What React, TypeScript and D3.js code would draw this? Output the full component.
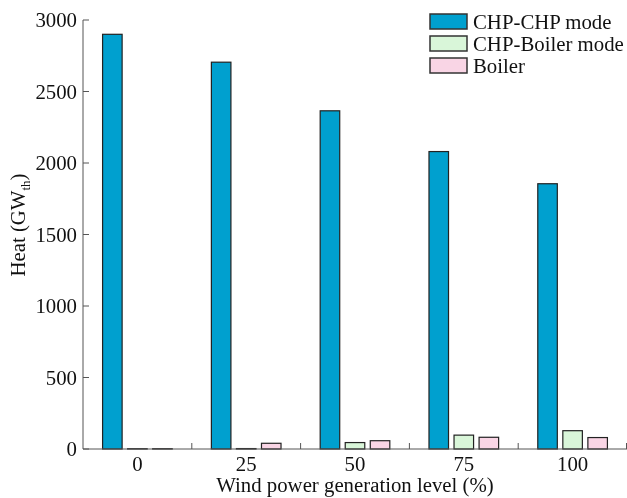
import React, { useRef, useEffect } from 'react';
import * as d3 from 'd3';

const levels = ['0', '25', '50', '75', '100'];
const seriesNames = ['CHP-CHP mode', 'CHP-Boiler mode', 'Boiler'];
const chpChp = [2900, 2705, 2365, 2080, 1855];
const chpBoiler = [2, 3, 45, 97, 128];
const boiler = [2, 40, 58, 82, 80];
const yTicks = [0, 500, 1000, 1500, 2000, 2500, 3000];
const colors = ['#00a0cf', '#d9f6d9', '#f9d5e5'];

const Chart: React.FC = () => {
  const svgRef = useRef<SVGSVGElement>(null);

  useEffect(() => {
    if (!svgRef.current) return;
    const width = 627;
    const height = 498;
    const margin = { top: 20, right: 0, bottom: 49, left: 83 };
    const series = [chpChp, chpBoiler, boiler];
    const fs = 20.8;

    const svg = d3.select(svgRef.current)
      .style('font-family', "'Liberation Serif', 'Times New Roman', Times, serif");
    svg.selectAll('*').remove();

    const x = d3.scaleBand<string>()
      .domain(levels)
      .range([margin.left, width - margin.right]);
    const inner = d3.scaleBand<number>()
      .domain([0, 1, 2])
      .range([x.bandwidth() * 0.18, x.bandwidth() * 0.82])
      .paddingInner(0.22);
    const y = d3.scaleLinear()
      .domain([0, 3000])
      .range([height - margin.bottom, margin.top]);

    // bars
    series.forEach((vals, si) => {
      svg.append('g')
        .selectAll('rect')
        .data(vals)
        .join('rect')
        .attr('x', (_, i) => (x(levels[i]) ?? 0) + (inner(si) ?? 0))
        .attr('y', d => y(d))
        .attr('width', inner.bandwidth())
        .attr('height', d => y(0) - y(d))
        .attr('fill', colors[si])
        .attr('stroke', '#222')
        .attr('stroke-width', 1.2);
    });

    const axisColor = '#555';

    // y axis
    const gy = svg.append('g').attr('transform', `translate(${margin.left},0)`);
    gy.append('line')
      .attr('y1', y(0)).attr('y2', y(3000))
      .attr('stroke', axisColor);
    gy.selectAll('line.tick')
      .data(yTicks)
      .join('line')
      .attr('class', 'tick')
      .attr('x1', 0).attr('x2', 6)
      .attr('y1', d => y(d)).attr('y2', d => y(d))
      .attr('stroke', axisColor);
    gy.selectAll('text')
      .data(yTicks)
      .join('text')
      .attr('x', -6)
      .attr('y', d => y(d))
      .attr('dy', '0.35em')
      .attr('text-anchor', 'end')
      .attr('font-size', fs)
      .attr('fill', '#111')
      .text(d => d);

    // x axis
    const gx = svg.append('g');
    gx.append('line')
      .attr('x1', margin.left).attr('x2', width - margin.right)
      .attr('y1', y(0)).attr('y2', y(0))
      .attr('stroke', axisColor);
    gx.selectAll('line.tick')
      .data(levels.slice(1).concat(['end']))
      .join('line')
      .attr('class', 'tick')
      .attr('x1', d => d === 'end' ? width - margin.right - 0.5 : (x(d) ?? 0))
      .attr('x2', d => d === 'end' ? width - margin.right - 0.5 : (x(d) ?? 0))
      .attr('y1', y(0)).attr('y2', y(0) - 6)
      .attr('stroke', axisColor);
    gx.selectAll('text')
      .data(levels)
      .join('text')
      .attr('x', d => (x(d) ?? 0) + x.bandwidth() / 2)
      .attr('y', y(0) + 22)
      .attr('text-anchor', 'middle')
      .attr('font-size', fs)
      .attr('fill', '#111')
      .text(d => d);

    // axis titles
    svg.append('text')
      .attr('x', 355)
      .attr('y', 492)
      .attr('text-anchor', 'middle')
      .attr('font-size', fs)
      .attr('fill', '#111')
      .text('Wind power generation level (%)');

    const yt = svg.append('text')
      .attr('transform', `translate(25,225) rotate(-90)`)
      .attr('text-anchor', 'middle')
      .attr('font-size', fs)
      .attr('fill', '#111');
    yt.append('tspan').text('Heat (GW');
    yt.append('tspan').attr('font-size', 13).attr('dy', 5).text('th');
    yt.append('tspan').attr('dy', -5).text(')');

    // legend
    const legend = svg.append('g').attr('transform', 'translate(430,14)');
    seriesNames.forEach((name, i) => {
      const row = legend.append('g').attr('transform', `translate(0,${i * 22})`);
      row.append('rect')
        .attr('width', 37).attr('height', 15)
        .attr('fill', colors[i])
        .attr('stroke', '#333')
        .attr('stroke-width', 1.5);
      row.append('text')
        .attr('x', 43).attr('y', 7.5)
        .attr('dy', '0.35em')
        .attr('font-size', fs)
        .attr('fill', '#111')
        .text(name);
    });
  }, []);

  return (
    <svg
      ref={svgRef}
      width={627}
      height={498}
      style={{ position: 'fixed', top: 0, left: 0, display: 'block' }}
    />
  );
};

export default function App() {
  return <Chart />;
}
